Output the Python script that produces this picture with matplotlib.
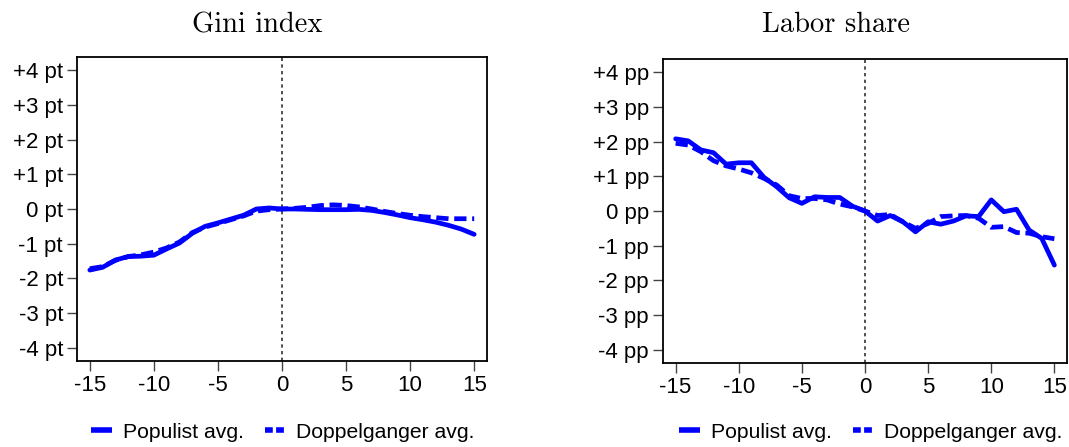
import matplotlib
matplotlib.use("Agg")
import matplotlib.pyplot as plt
from matplotlib.lines import Line2D

years = list(range(-15, 16))

gini_populist = [-1.76, -1.68, -1.47, -1.37, -1.36, -1.33, -1.15, -0.98, -0.70, -0.50,
                 -0.40, -0.29, -0.18, 0.00, 0.03, 0.00, 0.00, -0.01, -0.02, -0.02,
                 -0.02, -0.01, -0.04, -0.10, -0.17, -0.25, -0.31, -0.38, -0.47, -0.58, -0.73]
gini_doppel = [-1.72, -1.66, -1.48, -1.37, -1.32, -1.24, -1.12, -0.95, -0.68, -0.52,
               -0.42, -0.31, -0.20, -0.06, -0.02, 0.00, 0.02, 0.05, 0.10, 0.12,
               0.10, 0.06, 0.00, -0.07, -0.13, -0.18, -0.22, -0.25, -0.28, -0.28, -0.28]

labor_populist = [2.08, 2.02, 1.76, 1.68, 1.35, 1.39, 1.39, 0.97, 0.70, 0.38,
                  0.22, 0.41, 0.39, 0.39, 0.14, 0.00, -0.29, -0.13, -0.31, -0.60,
                  -0.31, -0.38, -0.29, -0.14, -0.16, 0.32, -0.02, 0.05, -0.55, -0.79, -1.56]
labor_doppel = [1.95, 1.90, 1.71, 1.45, 1.30, 1.21, 1.10, 0.94, 0.75, 0.44,
                0.36, 0.36, 0.32, 0.20, 0.12, 0.00, -0.13, -0.10, -0.31, -0.50,
                -0.36, -0.16, -0.14, -0.13, -0.21, -0.47, -0.45, -0.62, -0.64, -0.74, -0.80]

xticks = [-15, -10, -5, 0, 5, 10, 15]
yticks = [4, 3, 2, 1, 0, -1, -2, -3, -4]

def ylab(v, unit):
    if v > 0:
        return f"+{v} {unit}"
    if v < 0:
        return f"-{abs(v)} {unit}"
    return f"0 {unit}"

panels = [
    ("Gini index", gini_populist, gini_doppel, "pt",
     [77/1069, 1-361/447, (487-77)/1069, (361-57)/447], 257/1069, 283/1069),
    ("Labor share", labor_populist, labor_doppel, "pp",
     [663/1069, 1-363/447, (1067-663)/1069, (363-59)/447], 836/1069, 871/1069),
]

plt.rcParams['font.family'] = ['Liberation Sans', 'DejaVu Sans']
fig = plt.figure(figsize=(10.69, 4.47), dpi=100)
blue = (0, 0, 1)

for title, pop, dop, unit, rect, tx, lx in panels:
    ax = fig.add_axes(rect)
    ax.axvline(0, color="#333333", lw=1.2, ls=(0, (2, 2)), zorder=1)
    ax.plot(years, dop, color=blue, lw=3.4, ls=(0, (2.6, 1.2)), zorder=2)
    ax.plot(years, pop, color=blue, lw=3.4, solid_capstyle='round', zorder=3)
    ax.set_xlim(-16, 16)
    ax.set_ylim(-4.38, 4.38)
    ax.set_xticks(xticks)
    ax.set_xticklabels([str(v) for v in xticks])
    ax.set_yticks(yticks)
    ax.set_yticklabels([ylab(v, unit) for v in yticks])
    ax.tick_params(axis="both", labelsize=16, length=7, width=1.0, color="#444444", pad=3)
    for s in ax.spines.values():
        s.set_linewidth(1.3)
        s.set_color("black")
    fig.text(tx, 1-25/447, title, family="cmr10", fontsize=20.5, ha="center", va="center")
    handles = [Line2D([], [], color=blue, lw=4, solid_capstyle='butt'),
               Line2D([], [], color=blue, lw=4, ls=(0, (1.4, 0.6)))]
    fig.legend(handles, ["Populist avg.", "Doppelganger avg."],
               loc="center", bbox_to_anchor=(lx, 1-432/447),
               ncol=2, frameon=False, fontsize=15.2, handlelength=1.0,
               handletextpad=0.5, columnspacing=1.0)

fig.savefig("out.png", dpi=100)
